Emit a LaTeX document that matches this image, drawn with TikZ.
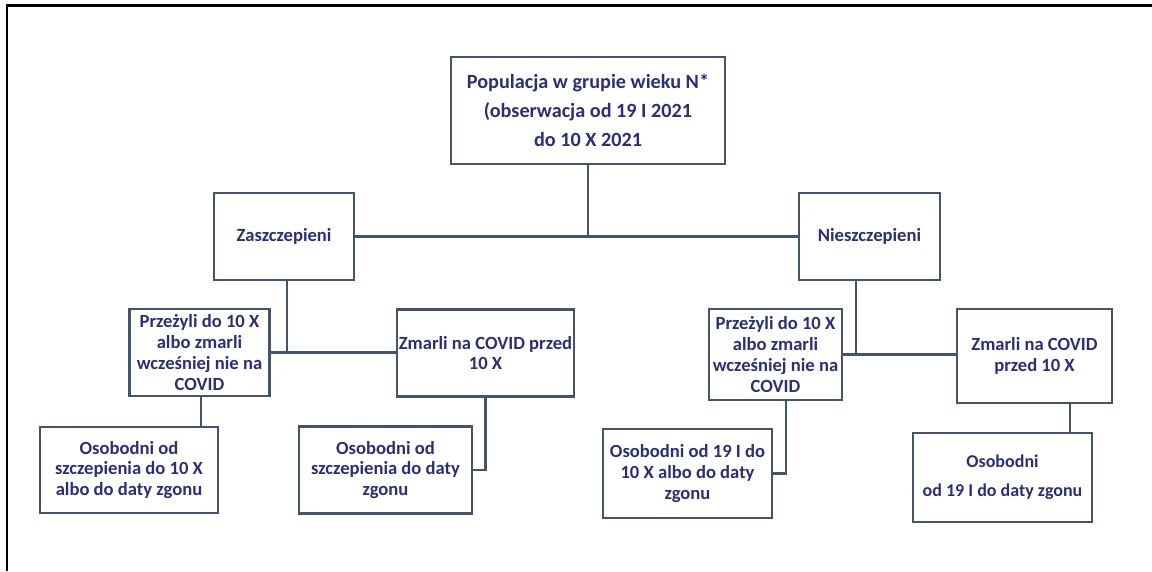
\documentclass[tikz,border=0pt]{standalone}
\usepackage{fontspec}
\setmainfont{Carlito}
\usepackage{tikz}
\usetikzlibrary{positioning}
\definecolor{txtc}{RGB}{44,46,118}
\definecolor{linec}{RGB}{68,84,106}
\tikzstyle{blk}=[draw=linec, line width=2.6pt, fill=white, inner sep=0pt, align=center, text=txtc, font=\fontsize{18.6}{20.8}\selectfont\bfseries]
\tikzstyle{lnk}=[draw=linec, line width=2.6pt]
\begin{document}
\begin{tikzpicture}[x=1pt,y=-1pt,node distance=100pt]
\useasboundingbox (0,0) rectangle (1152,571);
\draw[line width=2.2pt] (7,571) -- (7,5.5) -- (1152,5.5);

  \node[blk, minimum width=274pt, minimum height=107pt, font=\fontsize{20.2}{23}\selectfont\bfseries] at (588,110.5) (pop) {Populacja w grupie wieku N*\\[6pt](obserwacja od 19 I 2021\\[6pt]do 10 X 2021};

  \node[blk, minimum width=140pt, minimum height=87pt, below of = pop, node distance = 126pt, xshift = -304pt] (zasz) {Zaszczepieni};
  \node[blk, minimum width=141pt, minimum height=87pt, below of = pop, node distance = 126pt, xshift = 281.5pt] (niesz) {Nieszczepieni};
\draw[lnk] (zasz) -- (niesz);
\draw[lnk] (pop) -- (pop |- zasz);

% szczepieni
  \node[blk, minimum width=140pt, minimum height=87pt, below of = zasz, node distance = 116pt, xshift = -84.5pt] (prz1) {Przeżyli do 10 X\\albo zmarli\\wcześniej nie na\\COVID};
  \node[blk, minimum width=177pt, minimum height=87pt, below of = zasz, node distance = 116.5pt, xshift = 201.5pt] (zm1) {Zmarli na COVID przed\\10 X};
\draw[lnk] ([xshift=3pt]zasz.south) -- ([xshift=3pt]zasz.south |- prz1.east);
\draw[lnk] (prz1.east) -- (prz1.east -| zm1.west);

  \node[blk, minimum width=178pt, minimum height=86pt, below of = prz1, node distance = 117.5pt, xshift = -70.5pt] (os1) {Osobodni od\\szczepienia do 10 X\\albo do daty zgonu};
  \node[blk, minimum width=173pt, minimum height=87pt, below of = zm1, node distance = 117pt, xshift = -100pt] (os2) {Osobodni od\\szczepienia do daty\\zgonu};
\draw[lnk] ([xshift=1.5pt]prz1.south) -- ([xshift=1.5pt]prz1.south |- os1.north);
\draw[lnk] (zm1.south) |- (os2.east);

% nieszczepieni
  \node[blk, minimum width=133pt, minimum height=91pt, below of = niesz, node distance = 118pt, xshift = -94pt] (prz2) {Przeżyli do 10 X\\albo zmarli\\wcześniej nie na\\COVID};
  \node[blk, minimum width=155pt, minimum height=94pt, below of = niesz, node distance = 119.5pt, xshift = 165pt] (zm2) {Zmarli na COVID\\przed 10 X};
\draw[lnk] ([xshift=-13.5pt]niesz.south) -- ([xshift=-13.5pt]niesz.south |- prz2.east);
\draw[lnk] (prz2.east) -- (prz2.east -| zm2.west);

  \node[blk, minimum width=169pt, minimum height=89pt, below of = prz2, node distance = 119pt, xshift = -88pt] (os3) {Osobodni od 19 I do\\10 X albo do daty\\zgonu};
  \node[blk, minimum width=179pt, minimum height=89pt, below of = zm2, node distance = 121.5pt, xshift = -32pt, font=\fontsize{18}{20.8}\selectfont\bfseries] (os4) {Osobodni\\[8pt]od 19 I do daty zgonu};
\draw[lnk] ([xshift=10.5pt]prz2.south) |- (os3.east);
\draw[lnk] ([xshift=35.5pt]zm2.south) -- ([xshift=35.5pt]zm2.south |- os4.north);
\end{tikzpicture}
\end{document}
